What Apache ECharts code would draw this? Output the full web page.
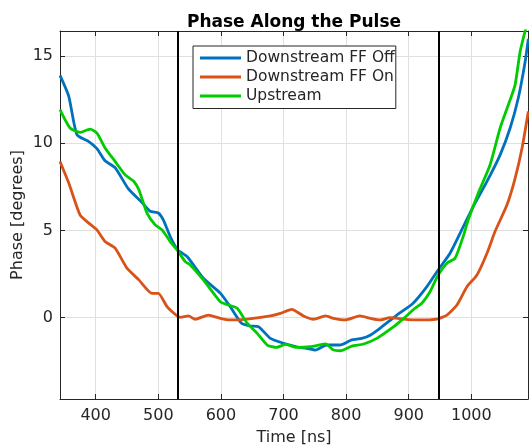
<!DOCTYPE html>
<html>
<head>
<meta charset="utf-8">
<script src="https://cdn.jsdelivr.net/npm/echarts@6/dist/echarts.min.js"></script>
<style>
  html, body { margin: 0; padding: 0; background: #fff; }
  #chart { width: 529px; height: 445px; }
</style>
</head>
<body>
<div id="chart"></div>
<script>
// values
var offTime = [343, 357, 370, 389, 402, 415, 431, 452, 474, 487, 500, 508, 519, 531, 546, 572, 599, 615, 633, 647, 660, 679, 700, 721, 737, 751, 769, 790, 809, 825, 839, 854, 881, 907, 929, 947, 966, 987, 1003, 1025, 1046, 1062, 1075, 1086, 1091];
var offPhase = [13.9, 12.7, 10.5, 10.1, 9.7, 9.0, 8.6, 7.4, 6.6, 6.1, 6.0, 5.6, 4.65, 3.88, 3.5, 2.25, 1.4, 0.62, -0.33, -0.49, -0.53, -1.2, -1.48, -1.68, -1.77, -1.87, -1.58, -1.58, -1.29, -1.2, -1.0, -0.62, 0.14, 0.82, 1.77, 2.73, 3.69, 5.2, 6.37, 7.81, 9.34, 10.88, 12.6, 14.7, 16.0];

var onTime = [343, 357, 375, 389, 402, 415, 431, 450, 469, 490, 500, 514, 530, 535, 548, 559, 580, 599, 615, 642, 679, 695, 713, 732, 748, 767, 780, 799, 822, 839, 854, 870, 892, 913, 945, 961, 977, 993, 1009, 1025, 1038, 1057, 1070, 1081, 1091];
var onPhase = [8.96, 7.72, 5.89, 5.42, 5.03, 4.36, 3.98, 2.83, 2.16, 1.39, 1.39, 0.62, 0.09, 0.01, 0.09, -0.1, 0.14, -0.05, -0.14, -0.09, 0.09, 0.24, 0.47, 0.09, -0.1, 0.09, -0.05, -0.14, 0.09, -0.05, -0.14, -0.01, -0.09, -0.14, -0.09, 0.14, 0.72, 1.77, 2.44, 3.69, 4.95, 6.47, 8.0, 9.73, 11.83];

var upTime = [343, 359, 375, 391, 402, 415, 431, 447, 461, 469, 482, 495, 506, 519, 532, 543, 551, 572, 599, 612, 626, 642, 658, 674, 689, 703, 721, 743, 767, 780, 791, 809, 828, 849, 876, 892, 910, 921, 934, 947, 961, 974, 987, 995, 1011, 1030, 1046, 1062, 1070, 1078, 1087];
var upPhase = [11.93, 10.88, 10.63, 10.82, 10.59, 9.73, 8.96, 8.19, 7.81, 7.33, 5.99, 5.32, 5.03, 4.36, 3.78, 3.21, 3.02, 2.16, 0.91, 0.72, 0.53, -0.33, -0.91, -1.58, -1.72, -1.54, -1.72, -1.68, -1.52, -1.87, -1.91, -1.64, -1.52, -1.2, -0.53, -0.05, 0.53, 0.82, 1.48, 2.44, 3.12, 3.4, 4.65, 5.6, 7.14, 8.77, 10.88, 12.5, 13.37, 15.28, 16.6];

var seriesNames = ['Downstream FF Off', 'Downstream FF On', 'Upstream'];
var boundaries = [531.5, 947.7];

function pairs(xs, ys) {
    var out = [];
    for (var i = 0; i < xs.length; i++) {
        out.push([xs[i], ys[i]]);
    }
    return out;
}

var font = 'DejaVu Sans';
var ink = '#262626';
var xRange = { min: 343, max: 1090.5 };
var yRange = { min: -4.68, max: 16.45 };

var chart = echarts.init(document.getElementById('chart'));
chart.setOption({
    animation: false,
    backgroundColor: '#fff',
    title: {
        text: 'Phase Along the Pulse',
        left: 289,
        textAlign: 'center',
        top: 9,
        textStyle: { fontFamily: font, fontSize: 17, fontWeight: 'bold', color: '#000' }
    },
    legend: {
        data: seriesNames,
        orient: 'vertical',
        left: 193,
        top: 46,
        icon: 'rect',
        itemWidth: 41,
        itemHeight: 3,
        itemGap: 0,
        padding: [2.5, 1, 3, 7],
        borderColor: ink,
        borderWidth: 1,
        backgroundColor: '#fff',
        textStyle: { fontFamily: font, fontSize: 15.5, color: ink, lineHeight: 19 }
    },
    grid: {
        left: 60,
        right: 1,
        top: 31,
        bottom: 46,
        outerBoundsMode: 'none'
    },
    xAxis: [{
        type: 'value',
        min: xRange.min,
        max: xRange.max,
        splitNumber: 6,
        name: 'Time [ns]',
        nameLocation: 'middle',
        nameGap: 31,
        nameMoveOverlap: false,
        nameTextStyle: { fontFamily: font, fontSize: 16, color: ink },
        axisLine: { onZero: false, lineStyle: { color: ink } },
        axisTick: { inside: true, length: 5, lineStyle: { color: ink } },
        axisLabel: {
            fontFamily: font, fontSize: 16, color: ink, margin: 9,
            showMinLabel: false, showMaxLabel: false,
            formatter: function (v) { return String(v); }
        },
        splitLine: { show: true, lineStyle: { color: '#e0e0e0' } }
    }, {
        type: 'value',
        position: 'top',
        min: xRange.min,
        max: xRange.max,
        splitNumber: 6,
        axisLine: { show: true, onZero: false, lineStyle: { color: ink } },
        axisTick: { inside: true, length: 5, lineStyle: { color: ink } },
        axisLabel: { show: false },
        splitLine: { show: false }
    }],
    yAxis: [{
        type: 'value',
        min: yRange.min,
        max: yRange.max,
        splitNumber: 4,
        name: 'Phase [degrees]',
        nameLocation: 'middle',
        nameGap: 34,
        nameMoveOverlap: false,
        nameTextStyle: { fontFamily: font, fontSize: 16, color: ink },
        axisLine: { show: true, onZero: false, lineStyle: { color: ink } },
        axisTick: { show: true, inside: true, length: 5, lineStyle: { color: ink } },
        axisLabel: { fontFamily: font, fontSize: 16, color: ink, margin: 7, showMinLabel: false, showMaxLabel: false },
        splitLine: { show: true, lineStyle: { color: '#e0e0e0' } }
    }, {
        type: 'value',
        position: 'right',
        min: yRange.min,
        max: yRange.max,
        splitNumber: 4,
        axisLine: { show: true, onZero: false, lineStyle: { color: ink } },
        axisTick: { show: true, inside: true, length: 5, lineStyle: { color: ink } },
        axisLabel: { show: false },
        splitLine: { show: false }
    }],
    series: [{
        name: seriesNames[0],
        type: 'line',
        data: pairs(offTime, offPhase),
        showSymbol: false,
        smooth: 0.2,
        lineStyle: { color: '#0072BD', width: 2.8 },
        itemStyle: { color: '#0072BD' },
        markLine: {
            silent: true,
            symbol: 'none',
            label: { show: false },
            lineStyle: { color: '#000', width: 2, type: 'solid' },
            data: boundaries.map(function (b) { return { xAxis: b }; })
        }
    }, {
        name: seriesNames[1],
        type: 'line',
        data: pairs(onTime, onPhase),
        showSymbol: false,
        smooth: 0.2,
        lineStyle: { color: '#D95319', width: 2.8 },
        itemStyle: { color: '#D95319' }
    }, {
        name: seriesNames[2],
        type: 'line',
        data: pairs(upTime, upPhase),
        showSymbol: false,
        smooth: 0.2,
        lineStyle: { color: '#00CC00', width: 2.8 },
        itemStyle: { color: '#00CC00' }
    }]
});
</script>
</body>
</html>
